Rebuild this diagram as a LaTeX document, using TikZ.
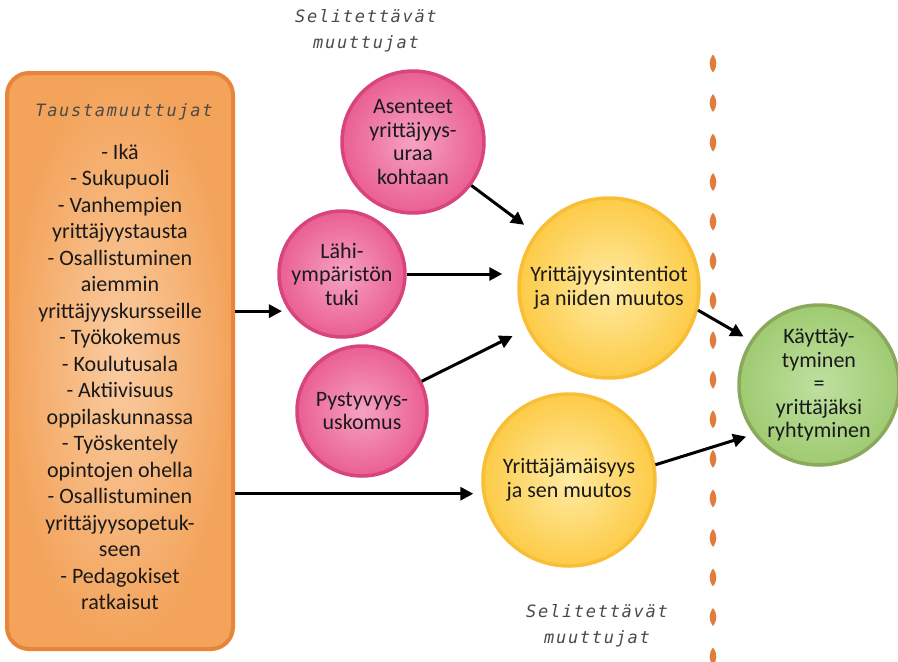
\documentclass[tikz,border=0pt]{standalone}
\usepackage{fontspec}
\setmainfont{Carlito}
\newfontfamily\notefont[LetterSpace=10]{DejaVu Sans Mono}
\usetikzlibrary{arrows.meta}

\definecolor{txt}{HTML}{1A1A1A}
\definecolor{notegray}{HTML}{4A4A4A}
\definecolor{boxin}{HTML}{FACCA2}
\definecolor{boxout}{HTML}{F3A35A}
\definecolor{boxrim}{HTML}{E8853A}
\definecolor{pinkin}{HTML}{F6A2C0}
\definecolor{pinkout}{HTML}{EA5F92}
\definecolor{pinkrim}{HTML}{D8447C}
\definecolor{yelin}{HTML}{FEEBA4}
\definecolor{yelout}{HTML}{FDCB47}
\definecolor{yelrim}{HTML}{F8BE36}
\definecolor{grnin}{HTML}{BFE0A0}
\definecolor{grnout}{HTML}{9FCB72}
\definecolor{grnrim}{HTML}{8BA85C}
\definecolor{dropc}{HTML}{E07D3C}

\tikzset{
  bubble/.style={circle, minimum size=#1, inner sep=0pt, line width=3.5pt,
    align=center, text=txt, font=\fontsize{22}{23.5}\selectfont},
  pinkball/.style={bubble=#1, draw=pinkrim, inner color=pinkin, outer color=pinkout},
  yellowball/.style={bubble=#1, draw=yelrim, inner color=yelin, outer color=yelout},
  greenball/.style={bubble=#1, draw=grnrim, inner color=grnin, outer color=grnout},
  taustabox/.style={rectangle, rounded corners=22pt, line width=4pt, draw=boxrim,
    inner color=boxin, outer color=boxout, minimum width=226pt, minimum height=576pt},
  boxtext/.style={align=center, text=txt, font=\fontsize{22}{26.5}\selectfont},
  note/.style={align=center, text=notegray, font=\notefont\itshape\fontsize{17}{25.5}\selectfont},
  arr/.style={line width=3pt, -{Triangle[length=13pt,width=13pt]}},
  drop/.style={fill=dropc},
}

\begin{document}
\begin{tikzpicture}[x=1pt,y=-1pt]
    \useasboundingbox (0,0) rectangle (898,662);

    % taustamuuttujat
    \node[taustabox] (tausta) at (120,361) {};
    \node[note] (otsikko) at (124,112) {Taustamuuttujat};
    \node[boxtext] (tekijat) at (120,377) {- Ikä\\- Sukupuoli\\- Vanhempien\\yrittäjyystausta\\- Osallistuminen\\aiemmin\\yrittäjyyskursseille\\- Työkokemus\\- Koulutusala\\- Aktiivisuus\\oppilaskunnassa\\- Työskentely\\opintojen ohella\\- Osallistuminen\\yrittäjyysopetuk-\\seen\\- Pedagokiset\\ratkaisut};

    % selitettavat muuttujat
    \node[note] (selite1) at (366,31) {Selitettävät\\muuttujat};
    \node[note] (selite2) at (597,626) {Selitettävät\\muuttujat};

    \node[pinkball=142pt] (asenteet) at (413,142) {Asenteet\\yrittäjyys-\\uraa\\kohtaan};
    \node[pinkball=126pt] (tuki) at (342,274) {Lähi-\\ympäristön\\tuki};
    \node[pinkball=130pt] (pysty) at (362,411) {Pystyvyys-\\uskomus};
    \node[yellowball=180pt] (intentio) at (609,288) {Yrittäjyysintentiot\\ja niiden muutos};
    \node[yellowball=172pt] (mais) at (569,480) {Yrittäjämäisyys\\ja sen muutos};
    \node[greenball=160pt] (kayt) at (819,385) {Käyttäy-\\tyminen\\=\\yrittäjäksi\\ryhtyminen};

    % raja
    \foreach \k in {-1,...,14} {
        \pgfmathsetmacro\yy{103+39.54*\k}
        \fill[drop] (713,\yy-9) .. controls (717.5,\yy-3) and (717.5,\yy+3) .. (713,\yy+9)
            .. controls (708.5,\yy+3) and (708.5,\yy-3) .. (713,\yy-9);
    }

    % nuolet
    \draw[arr, shorten >=7pt] (tausta.east |- tuki.215) -- (tuki.215);
    \draw[arr, shorten >=9pt] (tausta.east |- mais.189) -- (mais.189);
    \draw[arr, shorten >=14pt] (asenteet) -- (intentio);
    \draw[arr, shorten >=15pt] (tuki) -- (tuki -| intentio.west);
    \draw[arr, shorten >=16pt] (pysty) -- (intentio);
    \draw[arr, shorten >=8pt] (intentio.346) -- (kayt.147);
    \draw[arr, shorten >=8pt] (mais.10) -- (kayt.217);
\end{tikzpicture}
\end{document}
